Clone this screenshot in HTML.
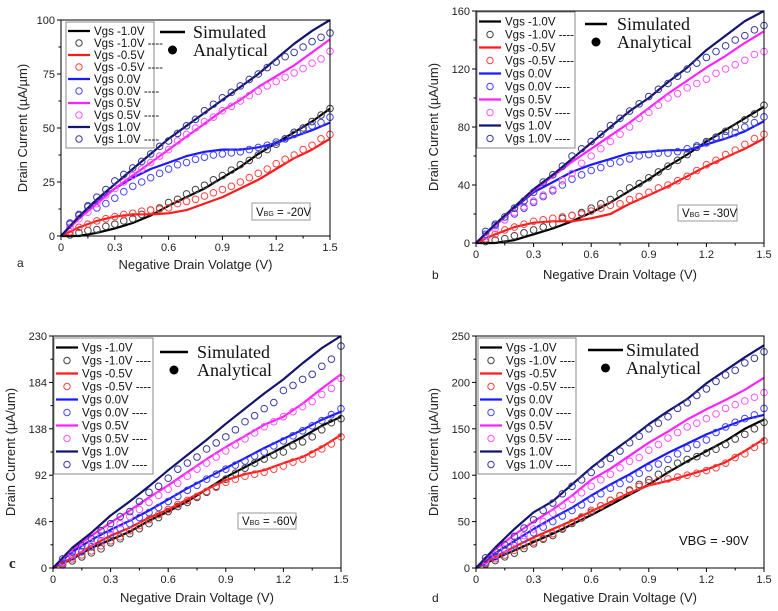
<!DOCTYPE html>
<html><head><meta charset="utf-8"><style>
body{margin:0;background:#fff;width:778px;height:611px;overflow:hidden}
svg{display:block}
text{font-family:"Liberation Sans",Arial,sans-serif}
text.serif{font-family:"Liberation Serif","Times New Roman",serif}
</style></head><body>
<svg id="chart" width="778" height="611" viewBox="0 0 778 611" xmlns="http://www.w3.org/2000/svg"></svg>
<script>
const NS="http://www.w3.org/2000/svg";
const seriesNames=["Vgs -1.0V","Vgs -0.5V","Vgs 0.0V","Vgs 0.5V","Vgs 1.0V"];
const lineX=[0,0.1,0.2,0.3,0.4,0.5,0.6,0.7,0.8,0.9,1.0,1.1,1.2,1.3,1.4,1.5];
const circX=[0,0.05,0.1,0.15,0.2,0.25,0.3,0.35,0.4,0.45,0.5,0.55,0.6,0.65,0.7,0.75,0.8,0.85,0.9,0.95,1.0,1.05,1.1,1.15,1.2,1.25,1.3,1.35,1.4,1.45,1.5];
const xTicks=[0,0.3,0.6,0.9,1.2,1.5];
const xTickLabels=["0","0.3","0.6","0.9","1.2","1.5"];
// panel a
const aTicks=[0,25,50,75,100];
const aLines=[
[0,0,1.5,3.5,6,9.5,14,18,22,27,32,38,43,48,53,59],
[0,4,7,9,10,10,10.5,12,15,18,22,26,31,36,40,45],
[0,9,16,22,27,31,34,37,39,40,40,41,43,46,49,52.5],
[0,8,15,22,28,34,40,46,52,58,63,69,74,79,85,91],
[0,9,17,24,31,38,45,51,57,63,69,75,82,89,95,101]];
const aCircles=[
[0,0.5,1.5,2.5,3,4.5,5.5,7,8,10,12,13,15.5,17,19.5,21.5,23.5,26,28,30.5,33,35,37.5,40,42.5,45,48,50,53,56,59],
[0,2,4,5.5,7,8,9,10,10.5,11.5,12,12.5,13,15,16,17,18.5,20,21.5,23,25,27,29,31,33.5,35.5,37.5,40,42,45,47],
[0,5.5,9.5,13.5,13,15,17.5,20.5,23,25,27,29,31,33,34,35.5,36.5,37.5,38,38.5,39,40,41,42,43.5,45,47,49,51,52.5,55],
[0,4,8,11,15,19,22,25,28,31,34,37,40,44,47,50,53,55,58,60,62.5,65,67,69.5,71.5,73.5,75.5,77.5,80,82,85.5],
[0,6,10,14,18,21.5,25.5,28.5,31.5,34.5,38,41.5,44,47.5,51,54,58,61,64,66.5,69.5,72.5,75,78,80.5,83,85,87.5,90,92,94]];
// panel b
const bTicks=[0,40,80,120,160];
const bLines=[
[0,0,2,6,10,15,21,28,36,44,53,61,70,78,86,94],
[0,6,11,14,15,15,17,20,27,33,39,46,53,59,65,72],
[0,12,24,35,42,49,54,58,62,63,64,64,68,72,77,84],
[0,12,25,36,46,56,65,74,83,93,103,112,121,129,138,146],
[0,13,25,37,47,58,69,80,91,100,111,121,133,143,153,163]];
const bCircles=[
[0,1,2,3,5,7,9,11,13,17,19,21,24,27,30,34,38,41,45,49,53,57,61,66,70,73,77,80,85,89,95],
[0,3,6,9,11,13,15,16,17,18,19,20,22,24,26,27,30,32,35,38,40,43,46,50,54,57,61,64,68,72,75],
[0,6,12,16,20,24,28,32,36,40,44,47,50,52,55,56,58,60,61,62,62,63,65,67,69,72,74,76,80,83,87],
[0,5,10,16,21,25,29,33,37,43,48,55,60,65,70,75,80,86,90,95,100,103,107,110,113,117,120,123,126,130,132],
[0,8,13,18,24,29,35,42,47,53,60,65,70,75,81,86,91,96,101,106,110,115,120,124,128,132,136,140,143,147,150]];
// panel c
const cTicks=[0,46,92,138,184,230];
const cLines=[
[0,9,20,28,36,47,56,66,78,90,100,110,120,130,141,150],
[0,10,22,32,40,50,58,68,78,87,93,97,104,110,120,132],
[0,16,28,38,47,57,68,79,89,99,109,119,128,137,147,155],
[0,18,32,45,57,70,82,95,108,120,131,142,150,163,178,192],
[0,20,35,52,66,81,97,112,127,143,158,173,187,203,218,232]];
const cCircles=[
[0,3,7,11,15,19,25,29,34,39,44,50,56,61,65,70,75,81,88,94,99,104,108,112,115,121,125,130,137,144,148],
[0,4,9,13,17,22,27,31,37,42,48,53,58,63,67,71,76,80,85,88,91,93,95,98,101,105,108,113,118,123,130],
[0,5,11,16,21,27,33,39,44,50,55,60,66,71,77,82,88,93,98,102,106,111,115,121,126,131,136,141,146,152,158],
[0,6,13,19,25,32,38,44,51,58,65,72,78,84,91,98,104,110,116,122,128,134,140,145,150,155,160,165,172,178,188],
[0,9,16,22,29,37,44,51,56,66,75,81,89,98,104,110,118,124,130,137,145,151,158,164,176,181,187,192,200,207,220]];
// panel d
const dTicks=[0,50,100,150,200,250];
const dLines=[
[0,10,19,28,37,47,57,68,79,90,103,115,126,137,150,160],
[0,12,23,33,42,51,61,71,81,89,94,100,106,114,126,139],
[0,16,29,42,54,65,78,90,101,113,124,134,144,152,160,165],
[0,20,36,50,63,78,95,107,121,135,147,160,171,181,192,205],
[0,22,42,60,72,90,108,124,139,155,169,182,199,213,227,240]];
const dCircles=[
[0,4,8,12,16,21,26,31,35,42,48,54,60,67,73,78,84,90,95,101,106,113,117,120,124,128,133,139,144,150,157],
[0,5,10,14,19,24,28,32,37,43,49,55,62,67,73,78,83,88,92,94,96,98,100,102,105,108,113,119,123,130,137],
[0,6,12,18,24,31,38,44,50,56,62,68,74,80,86,91,96,102,108,112,117,123,129,133,138,146,152,157,161,165,172],
[0,8,14,21,28,35,42,50,59,67,74,81,88,95,101,108,115,119,127,133,140,146,152,156,161,166,172,176,180,184,189],
[0,11,18,25,34,43,52,62,70,80,88,95,103,112,118,126,135,142,150,156,163,172,178,186,193,201,208,213,221,226,233]];

const lineCols=["#000000","#ff1a1a","#1a1aff","#ff22ff","#14146e"];
const circCols=["#444444","#ff4444","#4444ff","#ff55ff","#3a3aa0"];
const svg=document.getElementById("chart");
function mk(tag,attrs,parent,text){const e=document.createElementNS(NS,tag);for(const k in attrs)e.setAttribute(k,attrs[k]);if(text!==undefined)e.textContent=text;(parent||svg).appendChild(e);return e;}

function panel(p){
  const g=mk("g",{});
  
  
  const L=p.L,R=p.R,T=p.T,B=p.B,ymax=p.ticks[p.ticks.length-1];
  const sx=v=>L+(v/1.5)*(R-L), sy=v=>B-(v/ymax)*(B-T);
  for(let s=0;s<5;s++){
    const pts=lineX.map((x,i)=>sx(x).toFixed(1)+","+Math.max(T,sy(p.lines[s][i])).toFixed(1)).join(" ");
    const pl=mk("polyline",{points:pts,fill:"none",stroke:lineCols[s],"stroke-width":2.2,"stroke-linejoin":"round"},g);
    
    
    circX.forEach((x,i)=>{
      if(i===0)return;
      const c=mk("circle",{cx:sx(x),cy:sy(p.circles[s][i]),r:3.3,fill:"none",stroke:circCols[s],"stroke-width":1},g);
      
      
    });
  }
  const fr=mk("rect",{x:L,y:T,width:R-L,height:B-T,fill:"none",stroke:"#000","stroke-width":1},g);
  
  
  xTicks.forEach((v,i)=>{
    mk("line",{x1:sx(v),x2:sx(v),y1:B,y2:B+4,stroke:"#000"},g);
    if(i<xTicks.length-1)mk("line",{x1:sx(v+0.15),x2:sx(v+0.15),y1:B,y2:B+2.5,stroke:"#000"},g);
    const t=mk("text",{x:sx(v),y:B+15,"font-size":11,"text-anchor":"middle",fill:"#222"},g,xTickLabels[i]);
    
    
  });
  p.ticks.forEach((v,i)=>{
    mk("line",{x1:L-4,x2:L,y1:sy(v),y2:sy(v),stroke:"#000"},g);
    if(i<p.ticks.length-1){const m=(v+p.ticks[i+1])/2;mk("line",{x1:L-2.5,x2:L,y1:sy(m),y2:sy(m),stroke:"#000"},g);}
    const t=mk("text",{x:L-6,y:sy(v)+4,"font-size":11,"text-anchor":"end",fill:"#222"},g,String(v));
    
    
  });
  const xt=mk("text",{x:(L+R)/2,y:p.xtY,"font-size":13,"text-anchor":"middle",fill:"#222"},g,p.xtitle);
  
  
  const yt=mk("text",{x:0,y:0,"font-size":13,"text-anchor":"middle",fill:"#222",transform:`translate(${p.ytX},${(T+B)/2}) rotate(-90)`},g,p.ytitle);
  
  
  const lb=mk("rect",{x:p.lg[0],y:p.lg[1],width:p.lg[2],height:p.lg[3],fill:"#fff",stroke:"#888","stroke-width":1},g);
  
  
  const rowH=(p.lg[3]-6)/10;
  for(let r=0;r<10;r++){
    const s=Math.floor(r/2),y=p.lg[1]+3+rowH*(r+0.5);
    if(r%2===0)mk("line",{x1:p.lg[0]+2,x2:p.lg[0]+24,y1:y,y2:y,stroke:lineCols[s],"stroke-width":2.2},g);
    else mk("circle",{cx:p.lg[0]+13,cy:y,r:3.2,fill:"none",stroke:circCols[s]},g);
    const lbl=seriesNames[s]+(r%2?" ----":"");
    const t=mk("text",{x:p.lg[0]+28,y:y+4,"font-size":11.5,fill:"#111"},g,lbl);
    
    
  }
  mk("line",{x1:p.sim[0],x2:p.sim[1],y1:p.sim[2],y2:p.sim[2],stroke:"#000","stroke-width":2.5},g);
  const st=mk("text",{x:p.sim[3],y:p.sim[2]+6,"font-size":18,"class":"serif",fill:"#111"},g,"Simulated");
  
  
  mk("circle",{cx:(p.sim[0]+p.sim[1])/2,cy:p.sim[2]+18,r:4.5,fill:"#000"},g);
  const at=mk("text",{x:p.sim[3],y:p.sim[2]+24,"font-size":18,"class":"serif",fill:"#111"},g,"Analytical");
  
  
  if(p.vbox){
    mk("rect",{x:p.vbox[0],y:p.vbox[1],width:p.vbox[2],height:p.vbox[3],fill:"#fff",stroke:"#999"},g);
    const vt=mk("text",{x:p.vbox[0]+4,y:p.vbox[1]+p.vbox[3]-4,"font-size":11.5,fill:"#111"},g);
    
    
    vt.appendChild(document.createTextNode("V"));
    mk("tspan",{"font-size":7},vt,"BG");
    vt.appendChild(document.createTextNode(" = "+p.vbg));
  } else {
    const vt=mk("text",{x:p.vtxt[0],y:p.vtxt[1],"font-size":13,fill:"#111"},g,"VBG = "+p.vbg);
    
    
  }
  const pl=mk("text",{x:p.letter[0],y:p.letter[1],"font-size":p.letterBold?15:12,"font-weight":p.letterBold?"bold":"normal","class":p.letterBold?"serif":"",fill:"#222"},g,p.id);
  
  
}
panel({id:"a",L:61,R:330,T:20,B:236,ticks:aTicks,lines:aLines,circles:aCircles,xtitle:"Negative Drain Volatge (V)",xtY:269,ytitle:"Drain Current (µA/µm)",ytX:27,lg:[66,22,88,126],sim:[160,185,32,193],vbox:[252,203,58,17],vbg:"-20V",letter:[17,267]});
panel({id:"b",L:476,R:764,T:11,B:243,ticks:bTicks,lines:bLines,circles:bCircles,xtitle:"Negative Drain Voltage (V)",xtY:279,ytitle:"Drain Current (µA/um)",ytX:438,lg:[477,12,98,136],sim:[585,607,24,617],vbox:[678,205,59,16],vbg:"-30V",letter:[432,279]});
panel({id:"c",L:53,R:341,T:336,B:568,ticks:cTicks,lines:cLines,circles:cCircles,xtitle:"Negative Drain Voltage (V)",xtY:602,ytitle:"Drain Current (µA/um)",ytX:15,lg:[54,338,99,136],sim:[160,188,352,197],vbox:[238,513,58,16],vbg:"-60V",letterBold:true,letter:[9,568]});
panel({id:"d",L:476,R:764,T:336,B:568,ticks:dTicks,lines:dLines,circles:dCircles,xtitle:"Negative Drain Voltage (V)",xtY:602,ytitle:"Drain Current (µA/um)",ytX:438,lg:[478,338,98,136],sim:[588,623,350,626],vtxt:[679,545],vbg:"-90V",letter:[432,602]});
</script>
</body></html>
